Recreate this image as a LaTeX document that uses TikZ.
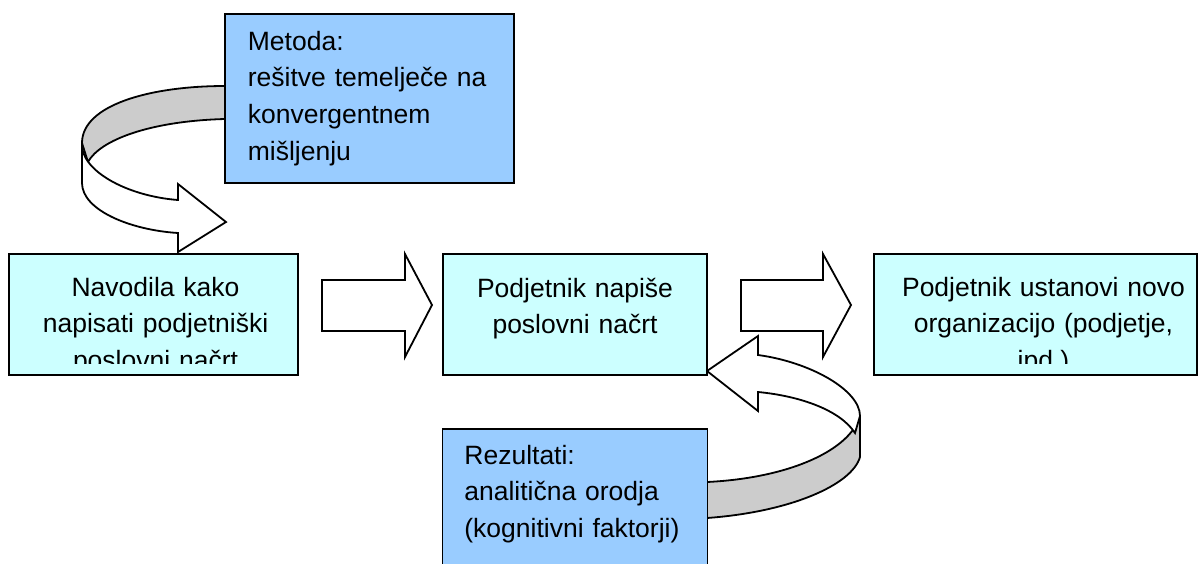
\documentclass[tikz,border=0pt]{standalone}
\usepackage{fontspec}
\setmainfont{Liberation Sans}
\usepackage{xcolor}
\usepackage{tikz}
\usetikzlibrary{positioning}

\definecolor{boxcyan}{HTML}{CCFFFF}
\definecolor{boxblue}{HTML}{99CCFF}
\definecolor{bandgray}{HTML}{CCCCCC}

\begin{document}
\begin{tikzpicture}[
      x=0.5pt, y=-0.5pt,
      font=\fontsize{13.25pt}{18.4pt}\selectfont,
      line width=0.9pt,
      cyanbox/.style={draw, fill=boxcyan, minimum height=60.5pt, inner sep=0pt, outer sep=0pt, anchor=north west},
      bluebox/.style={draw, fill=boxblue, inner sep=0pt, outer sep=0pt, anchor=north west},
      cyantext/.style={anchor=base, align=center, text width=170pt, inner sep=0pt},
      bluetext/.style={anchor=base west, align=left, text width=135pt, inner sep=0pt},
      blockarr/.style={draw, fill=white, line join=miter},
      band/.style={draw, fill=bandgray, line join=round},
      bandfront/.style={draw, fill=white, line join=miter}
    ]
    \clip (0,0) rectangle (1200,563);

    % Curved arrow at the top: back of the band, then the front with its head
    \draw[band] (225,86) .. controls (150,86) and (82,105) .. (82,143)
      -- (88,162) .. controls (100,140) and (150,121) .. (225,119) -- cycle;
    \draw[bandfront] (82,143) .. controls (80,170) and (126,196) .. (178,200)
      -- (178,184) -- (226,222) -- (178,252) -- (178,233)
      .. controls (130,230) and (82,210) .. (82,183) -- cycle;

    % Curved arrow at the bottom, back into the middle box
    \draw[band] (707,482) .. controls (790,478) and (850,450) .. (860,416)
      -- (860,457) .. controls (852,485) and (790,512) .. (707,518) -- cycle;
    \draw[bandfront] (860,416) .. controls (860,390) and (810,362) .. (758,355)
      -- (758,336) -- (707,371) -- (758,411) -- (758,392)
      .. controls (800,396) and (840,410) .. (855,433) -- cycle;

    % Main row
    \node[cyanbox, minimum width=144.5pt] (navodila) at (9,254) {};
    \node[cyanbox, minimum width=132pt, right=72.5pt of navodila] (napise) {};
    \node[cyanbox, minimum width=161.5pt, right=83.5pt of napise] (ustanovi) {};

    % Method above, results below
    \node[bluebox, minimum width=144.5pt, minimum height=84.5pt] (metoda) at (225,14) {};
    \node[bluebox, minimum width=132.5pt, minimum height=100pt, below=27pt of napise] (rezultati) {};

    % Block arrows between the boxes
    \draw[blockarr] (322,280) -- (405,280) -- (405,254) -- (432,305)
      -- (405,357) -- (405,331) -- (322,331) -- cycle;
    \draw[blockarr] (741,280) -- (823,280) -- (823,254) -- (851,305)
      -- (823,357) -- (823,331) -- (741,331) -- cycle;

    % Texts (last lines cut off by the box margin)
    \begin{scope}
      \clip (navodila.north west) rectangle ([yshift=6pt]navodila.south east)
            (napise.north west) rectangle ([yshift=6pt]napise.south east)
            (ustanovi.north west) rectangle ([yshift=6pt]ustanovi.south east);
      \node[cyantext] (navodilatext) at ([xshift=1pt, yshift=-21pt]navodila.north)
        {Navodila kako\\napisati podjetniški\\poslovni načrt};
      \node[cyantext] (napisetext) at ([yshift=-21.5pt]napise.north)
        {Podjetnik napiše\\poslovni načrt};
      \node[cyantext] (ustanovitext) at ([xshift=4pt, yshift=-21pt]ustanovi.north)
        {Podjetnik ustanovi novo\\organizacijo (podjetje,\\ipd.)};
    \end{scope}
    \node[bluetext] (metodatext) at ([xshift=11pt, yshift=-18pt]metoda.north west)
      {Metoda:\\rešitve temelječe na\\konvergentnem\\mišljenju};
    \node[bluetext] (rezultatitext) at ([xshift=10.5pt, yshift=-17.5pt]rezultati.north west)
      {Rezultati:\\analitična orodja\\(kognitivni faktorji)};
  \end{tikzpicture}
\end{document}
